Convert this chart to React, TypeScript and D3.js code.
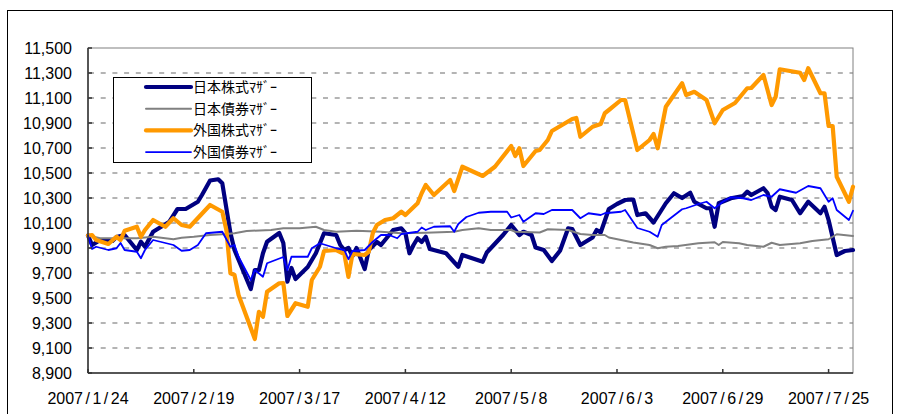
import React, { useEffect, useRef } from "react";
import * as d3 from "d3";

// index values (start = 10,000)
const jpStock: [string, number][] = [
  ["1/24", 10000], ["1/25", 9924], ["1/27", 9964], ["1/29", 9964], ["1/30", 9956], ["1/31", 9988],
  ["2/2", 10004], ["2/3", 9964], ["2/5", 9884], ["2/6", 9950], ["2/7", 9910], ["2/9", 10030],
  ["2/11", 10070], ["2/13", 10110], ["2/15", 10212], ["2/17", 10212], ["2/20", 10270], ["2/21", 10324],
  ["2/23", 10440], ["2/25", 10450], ["2/26", 10418], ["2/28", 10020], ["3/1", 9884], ["3/5", 9572],
  ["3/6", 9724], ["3/7", 9724], ["3/8", 9858], ["3/9", 9950], ["3/12", 10020], ["3/13", 9940],
  ["3/14", 9630], ["3/15", 9740], ["3/16", 9652], ["3/19", 9748], ["3/21", 9858], ["3/23", 10018],
  ["3/26", 10004], ["3/27", 9924], ["3/28", 9884], ["3/29", 9900], ["3/30", 9836], ["3/31", 9900],
  ["4/2", 9732], ["4/3", 9884], ["4/5", 9948], ["4/6", 9924], ["4/9", 10044], ["4/11", 10058],
  ["4/12", 10020], ["4/13", 9858], ["4/14", 9924], ["4/15", 9978], ["4/16", 9948], ["4/17", 9990],
  ["4/18", 9892], ["4/22", 9858], ["4/25", 9750], ["4/26", 9844], ["5/1", 9790], ["5/2", 9864],
  ["5/6", 10004], ["5/8", 10084], ["5/10", 10004], ["5/11", 10030], ["5/13", 10004], ["5/14", 9904],
  ["5/16", 9884], ["5/18", 9796], ["5/20", 9878], ["5/22", 10058], ["5/23", 10052], ["5/25", 9924],
  ["5/28", 9984], ["5/29", 10044], ["5/30", 10024], ["6/1", 10212], ["6/3", 10252], ["6/5", 10284],
  ["6/7", 10288], ["6/8", 10164], ["6/10", 10178], ["6/12", 10104], ["6/15", 10258], ["6/17", 10338],
  ["6/19", 10300], ["6/21", 10342], ["6/22", 10270], ["6/25", 10218], ["6/26", 10218], ["6/27", 10070],
  ["6/28", 10258], ["7/1", 10298], ["7/4", 10316], ["7/5", 10350], ["7/6", 10324], ["7/9", 10378],
  ["7/10", 10340], ["7/11", 10230], ["7/12", 10204], ["7/13", 10310], ["7/16", 10284], ["7/18", 10178],
  ["7/20", 10270], ["7/23", 10178], ["7/24", 10230], ["7/25", 10124], ["7/27", 9844], ["7/29", 9876],
  ["7/31", 9884],
];

const jpBond: [string, number][] = [
  ["1/24", 10000], ["1/27", 9978], ["1/31", 9978], ["2/5", 9978], ["2/9", 9990], ["2/14", 9970],
  ["2/16", 9982], ["2/19", 9990], ["2/23", 10004], ["2/27", 10012], ["3/1", 10018], ["3/4", 10036],
  ["3/10", 10044], ["3/13", 10058], ["3/17", 10058], ["3/21", 10070], ["3/23", 10044], ["3/26", 10030],
  ["3/31", 10038], ["4/6", 10030], ["4/11", 10018], ["4/17", 10022], ["4/24", 10030], ["4/26", 10044],
  ["4/30", 10058], ["5/3", 10044], ["5/8", 10044], ["5/9", 10030], ["5/15", 10024], ["5/17", 10050],
  ["5/22", 10044], ["5/25", 10012], ["5/28", 10004], ["5/31", 10004], ["6/1", 9984], ["6/4", 9964],
  ["6/7", 9944], ["6/11", 9924], ["6/13", 9898], ["6/15", 9910], ["6/18", 9916], ["6/23", 9938],
  ["6/27", 9946], ["6/28", 9924], ["6/29", 9948], ["7/3", 9938], ["7/5", 9924], ["7/9", 9910],
  ["7/11", 9942], ["7/13", 9924], ["7/18", 9938], ["7/21", 9956], ["7/25", 9970], ["7/27", 10010],
  ["7/31", 9996],
];

const fgStock: [string, number][] = [
  ["1/24", 10000], ["1/25", 10004], ["1/26", 9964], ["1/29", 9932], ["1/31", 9990], ["2/1", 9964],
  ["2/2", 10038], ["2/5", 10070], ["2/6", 9990], ["2/7", 10044], ["2/9", 10124], ["2/12", 10070],
  ["2/14", 10138], ["2/16", 10084], ["2/18", 10070], ["2/23", 10244], ["2/26", 10190], ["2/27", 10044],
  ["2/28", 9698], ["3/1", 9684], ["3/2", 9524], ["3/6", 9172], ["3/7", 9390], ["3/8", 9350],
  ["3/9", 9550], ["3/12", 9618], ["3/13", 9620], ["3/14", 9356], ["3/16", 9458], ["3/19", 9430],
  ["3/20", 9644], ["3/22", 9750], ["3/23", 9876], ["3/26", 9884], ["3/28", 9852], ["3/29", 9668],
  ["3/30", 9852], ["4/2", 9844], ["4/3", 9870], ["4/4", 10020], ["4/5", 10084], ["4/7", 10124],
  ["4/9", 10138], ["4/11", 10190], ["4/12", 10164], ["4/15", 10258], ["4/16", 10338], ["4/17", 10404],
  ["4/19", 10324], ["4/23", 10444], ["4/24", 10356], ["4/26", 10550], ["5/1", 10476], ["5/4", 10550],
  ["5/8", 10716], ["5/9", 10636], ["5/10", 10698], ["5/11", 10556], ["5/14", 10676], ["5/15", 10684],
  ["5/17", 10764], ["5/18", 10836], ["5/23", 10932], ["5/24", 10940], ["5/25", 10790], ["5/28", 10870],
  ["5/30", 10892], ["5/31", 10978], ["6/1", 11004], ["6/4", 11084], ["6/5", 11084], ["6/8", 10684],
  ["6/11", 10764], ["6/12", 10812], ["6/13", 10698], ["6/15", 11030], ["6/19", 11218], ["6/20", 11124],
  ["6/22", 11150], ["6/25", 11084], ["6/27", 10898], ["6/29", 11004], ["7/2", 11060], ["7/5", 11178],
  ["7/6", 11180], ["7/9", 11284], ["7/11", 11044], ["7/12", 11110], ["7/13", 11330], ["7/18", 11302],
  ["7/19", 11244], ["7/20", 11338], ["7/23", 11138], ["7/24", 11138], ["7/25", 10876], ["7/26", 10876],
  ["7/27", 10470], ["7/30", 10270], ["7/31", 10390],
];

const fgBond: [string, number][] = [
  ["1/24", 10000], ["1/25", 9892], ["1/26", 9910], ["1/29", 9884], ["1/31", 9898], ["2/1", 9940],
  ["2/2", 9884], ["2/5", 9870], ["2/6", 9818], ["2/7", 9884], ["2/9", 9964], ["2/14", 9924],
  ["2/16", 9878], ["2/18", 9884], ["2/20", 9924], ["2/22", 10018], ["2/26", 10030], ["2/28", 9910],
  ["3/1", 9924], ["3/2", 9830], ["3/5", 9644], ["3/6", 9724], ["3/8", 9670], ["3/9", 9778],
  ["3/13", 9828], ["3/14", 9724], ["3/15", 9830], ["3/19", 9830], ["3/20", 9898], ["3/22", 9938],
  ["3/26", 9898], ["3/28", 9884], ["3/29", 9810], ["3/30", 9876], ["4/2", 9884], ["4/4", 9950],
  ["4/6", 10004], ["4/8", 10004], ["4/10", 9978], ["4/11", 10012], ["4/15", 10030], ["4/16", 10064],
  ["4/17", 10044], ["4/19", 10070], ["4/23", 10074], ["4/24", 10030], ["4/25", 10092], ["4/27", 10148],
  ["4/30", 10182], ["5/3", 10190], ["5/7", 10190], ["5/8", 10144], ["5/10", 10164], ["5/11", 10110],
  ["5/14", 10178], ["5/16", 10172], ["5/18", 10204], ["5/21", 10204], ["5/23", 10204], ["5/25", 10138],
  ["5/27", 10178], ["5/30", 10164], ["5/31", 10178], ["6/4", 10190], ["6/5", 10204], ["6/8", 10060],
  ["6/11", 10030], ["6/13", 9990], ["6/14", 10084], ["6/19", 10210], ["6/20", 10218], ["6/23", 10252],
  ["6/25", 10270], ["6/27", 10218], ["6/29", 10270], ["7/1", 10306], ["7/4", 10298], ["7/6", 10284],
  ["7/9", 10324], ["7/11", 10310], ["7/13", 10370], ["7/17", 10342], ["7/20", 10396], ["7/23", 10378],
  ["7/24", 10324], ["7/25", 10270], ["7/26", 10298], ["7/27", 10204], ["7/30", 10124], ["7/31", 10198],
];

const seriesNames = ["日本株式ﾏｻﾞｰ", "日本債券ﾏｻﾞｰ", "外国株式ﾏｻﾞｰ", "外国債券ﾏｻﾞｰ"];
const yTicks = [8900, 9100, 9300, 9500, 9700, 9900, 10100, 10300, 10500, 10700, 10900, 11100, 11300, 11500];
const xTickLabels = ["2007/1/24", "2007/2/19", "2007/3/17", "2007/4/12", "2007/5/8", "2007/6/3", "2007/6/29", "2007/7/25"];
const xStart = "2007/1/24";
const xEnd = "2007/7/31";

const styles = [
  { color: "#000080", width: 4.2 },
  { color: "#808080", width: 2 },
  { color: "#ff9900", width: 4.2 },
  { color: "#0000ff", width: 1.8 },
];

export default function App() {
  const ref = useRef<SVGSVGElement>(null);

  useEffect(() => {
    const svg = d3.select(ref.current);
    svg.selectAll("*").remove();

    const parse = d3.utcParse("%Y/%m/%d");
    const left = 88, right = 853, top = 48, bottom = 373;

    const x = d3.scaleUtc().domain([parse(xStart)!, parse(xEnd)!]).range([left, right]);
    const y = d3.scaleLinear().domain([8900, 11500]).range([bottom, top]);

    // outer frame
    svg.append("rect")
      .attr("x", 7.5).attr("y", 10.5).attr("width", 885).attr("height", 420)
      .attr("fill", "white").attr("stroke", "#000").attr("stroke-width", 1);

    // gridlines
    svg.append("g")
      .selectAll("line")
      .data(yTicks.filter(v => v > 8900 && v < 11500))
      .enter()
      .append("line")
      .attr("x1", left + 1).attr("x2", right)
      .attr("y1", d => y(d)).attr("y2", d => y(d))
      .attr("stroke", "#b4b4b4")
      .attr("stroke-width", 2)
      .attr("stroke-dasharray", "5 6.7");

    // plot area border
    svg.append("rect")
      .attr("x", left).attr("y", top).attr("width", right - left).attr("height", bottom - top)
      .attr("fill", "none").attr("stroke", "#808080").attr("stroke-width", 1);

    // series
    const line = d3.line<[string, number]>()
      .x(d => x(parse("2007/" + d[0])!))
      .y(d => y(d[1]));

    const all = [jpStock, jpBond, fgStock, fgBond];
    all.forEach((data, i) => {
      svg.append("path")
        .datum(data)
        .attr("d", line)
        .attr("fill", "none")
        .attr("stroke", styles[i].color)
        .attr("stroke-width", styles[i].width)
        .attr("stroke-linejoin", "round")
        .attr("stroke-linecap", "round");
    });

    // axes
    const axis = svg.append("g").attr("stroke", "#333").attr("stroke-width", 1.5);
    axis.append("line").attr("x1", left).attr("x2", left).attr("y1", top).attr("y2", bottom);
    axis.append("line").attr("x1", left).attr("x2", right).attr("y1", bottom).attr("y2", bottom);
    axis.selectAll(".yt")
      .data(yTicks)
      .enter()
      .append("line")
      .attr("x1", left).attr("x2", left + 4)
      .attr("y1", d => y(d)).attr("y2", d => y(d));
    axis.selectAll(".xt")
      .data(xTickLabels)
      .enter()
      .append("line")
      .attr("x1", d => x(parse(d)!)).attr("x2", d => x(parse(d)!))
      .attr("y1", bottom).attr("y2", bottom - 4);

    const fmt = d3.format(",");
    svg.append("g")
      .selectAll("text")
      .data(yTicks)
      .enter()
      .append("text")
      .attr("x", 72)
      .attr("y", d => y(d) + 6)
      .attr("text-anchor", "end")
      .attr("font-family", "'Liberation Sans', Arial, sans-serif")
      .attr("font-size", 16)
      .attr("fill", "#000")
      .text(d => fmt(d));

    const xl = svg.append("g")
      .selectAll("text")
      .data(xTickLabels)
      .enter()
      .append("text")
      .attr("x", d => x(parse(d)!))
      .attr("y", 404)
      .attr("text-anchor", "middle")
      .attr("font-family", "'Liberation Sans', Arial, sans-serif")
      .attr("font-size", 16)
      .attr("fill", "#000");
    xl.each(function (d) {
      const t = d3.select(this);
      d.split("/").forEach((part, j) => {
        if (j > 0) t.append("tspan").attr("dx", 2.5).text("/");
        t.append("tspan").attr("dx", j > 0 ? 2.5 : 0).text(part);
      });
    });

    // legend
    const lg = svg.append("g");
    lg.append("rect")
      .attr("x", 113.5).attr("y", 77.5).attr("width", 198).attr("height", 85)
      .attr("fill", "white").attr("stroke", "#000").attr("stroke-width", 1);
    seriesNames.forEach((name, i) => {
      const ry = 87 + i * 21.7;
      lg.append("line")
        .attr("x1", 146).attr("x2", 191)
        .attr("y1", ry).attr("y2", ry)
        .attr("stroke", styles[i].color)
        .attr("stroke-width", styles[i].width)
        .attr("stroke-linecap", "round");
      lg.append("text")
        .attr("x", 193)
        .attr("y", ry)
        .attr("dy", "0.36em")
        .attr("font-family", "'Noto Sans CJK JP', sans-serif")
        .attr("font-size", 14)
        .attr("fill", "#000")
        .text(name);
    });
  }, []);

  return (
    <svg
      ref={ref}
      width={902}
      height={414}
      style={{ position: "absolute", left: 0, top: 0, background: "#fff" }}
    />
  );
}
